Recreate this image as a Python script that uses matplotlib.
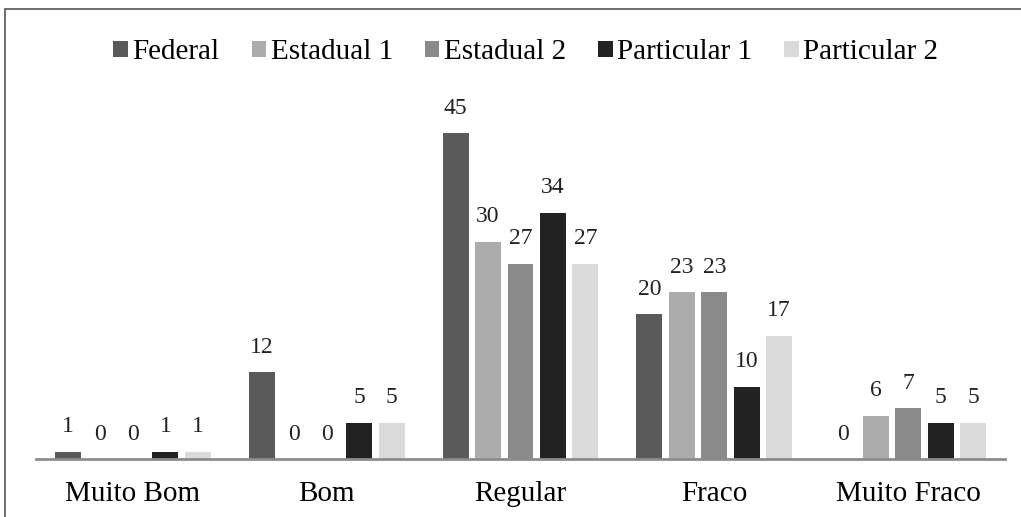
import matplotlib.pyplot as plt
import numpy as np

# Avaliação por tipo de instituição
categorias = ['Muito Bom', 'Bom', 'Regular', 'Fraco', 'Muito Fraco']
series = ['Federal', 'Estadual 1', 'Estadual 2', 'Particular 1', 'Particular 2']
federal = [1, 12, 45, 20, 0]
estadual_1 = [0, 0, 30, 23, 6]
estadual_2 = [0, 0, 27, 23, 7]
particular_1 = [1, 5, 34, 10, 5]
particular_2 = [1, 5, 27, 17, 5]
valores = [federal, estadual_1, estadual_2, particular_1, particular_2]
cores = ['#5a5a5a', '#acacac', '#8a8a8a', '#222222', '#dadada']

fonte = 'Liberation Serif'
plt.rcParams['font.family'] = [fonte, 'DejaVu Serif']

fig = plt.figure(figsize=(10.21, 5.17), dpi=100)
ax = fig.add_axes([36 / 1021, 58 / 517, 969 / 1021, 362 / 517])

# moldura externa
fig.patches.append(plt.Rectangle((5 / 1021, -0.05), 1.1, 1.05 - 9 / 517,
                                 transform=fig.transFigure, fill=False,
                                 edgecolor='#555555', linewidth=1.2))

x = np.arange(len(categorias))
passo = 0.1675
largura = 0.134
for i, (nome, vals, cor) in enumerate(zip(series, valores, cores)):
    pos = x + (i - 2) * passo
    ax.bar(pos, vals, largura, color=cor, label=nome)
    for xp, v in zip(pos, vals):
        ax.text(xp, v + 2.0, str(v), ha='center', va='bottom', fontsize=17,
                family=fonte, color='#222222')

ax.set_xlim(-0.5, len(categorias) - 0.5)
ax.set_ylim(0, 50)
ax.set_yticks([])
ax.set_xticks(x)
ax.set_xticklabels(categorias, fontsize=21, family=fonte)
ax.tick_params(axis='x', length=0, pad=16)
for lado in ['top', 'right', 'left']:
    ax.spines[lado].set_visible(False)
ax.spines['bottom'].set_color('#8c8c8c')
ax.spines['bottom'].set_linewidth(2)

fig.legend(loc='upper center', bbox_to_anchor=(0.515, 0.975), ncol=5,
           frameon=False, prop={'family': fonte, 'size': 21},
           handlelength=0.5, handleheight=0.5, handletextpad=0.15,
           columnspacing=1.1)

fig.savefig('out.png', dpi=100)
